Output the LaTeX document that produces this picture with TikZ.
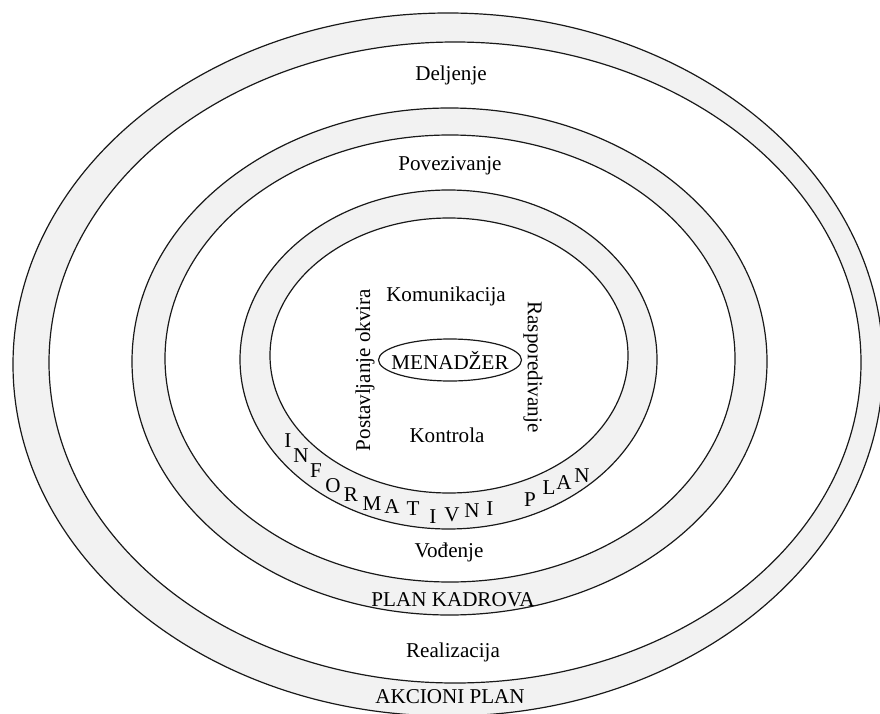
\documentclass[tikz,border=0pt]{standalone}
\usepackage{fontspec}
\setmainfont{Liberation Serif}
\usepackage{xcolor}
\usetikzlibrary{shapes,positioning,calc}
\definecolor{bandgray}{RGB}{242,242,242}
\definecolor{rimline}{RGB}{25,25,25}

\begin{document}
\begin{tikzpicture}[x=0.025cm,y=0.025cm,
    lbl/.style={font=\fontsize{15}{18}\selectfont, inner sep=1pt},
    rim/.style={draw=rimline, line width=0.85pt}]
    \useasboundingbox (0,0) rectangle (880,713);
    % Rings, outer to inner
    \foreach \cx/\cy/\rx/\ry/\col in {448/348.5/435/351.5/bandgray,
        455/350.5/406/320.5/white, 449.5/351.5/317.5/253.5/bandgray,
        450/354.5/285/223.5/white, 448.5/353.5/208.5/169.5/bandgray,
        449/357.5/179/137.5/white} {
        \filldraw[rim, fill=\col] (\cx,\cy) ellipse [x radius=\rx, y radius=\ry];
    }
    % Centre
    \node[lbl] (menadzer) at (450,353) {MENADŽER};
    \draw[rim] (menadzer.center) ellipse [x radius=71.5, y radius=21];
    \node[lbl] (komunikacija) at (446,417) {Komunikacija};
    \node[lbl] (kontrola) at (447,278) {Kontrola};
    \node[lbl, rotate=90] (okvir) at (365,343) {Postavljanje okvira};
    \node[lbl, rotate=-90] (raspored) at (533,346) {Rasporedivanje};
    % Ring labels
    \node[lbl] (deljenje) at (451,638) {Deljenje};
    \node[lbl] (povezivanje) at (450,547) {Povezivanje};
    \node[lbl] (vodjenje) at (449,161) {Vođenje};
    \node[lbl] (kadrovi) at (453,113) {PLAN KADROVA};
    \node[lbl] (realizacija) at (453,61) {Realizacija};
    \node[lbl] (akcioni) at (450,16) {AKCIONI PLAN};
    % Informativni plan, letter by letter
    \foreach \ch/\x/\y [count=\i] in {I/288/272, N/301/257, F/316/242, O/333/227,
        R/351/218, M/372/209, A/392/206, T/413/204, I/433/196, V/452/198,
        N/472/202, I/490/204, P/530/213, L/549/225, A/564/230, N/582/237} {
        \node[lbl] (info\i) at (\x,\y) {\ch};
    }
\end{tikzpicture}
\end{document}
